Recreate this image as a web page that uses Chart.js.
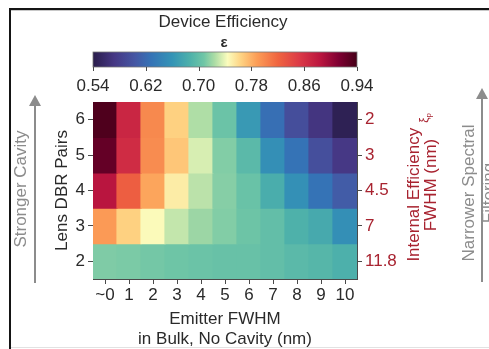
<!DOCTYPE html>
<html>
<head>
<meta charset="utf-8">
<script src="https://cdn.jsdelivr.net/npm/chart.js@4.4.0/dist/chart.umd.min.js"></script>
<style>
  html, body { margin: 0; padding: 0; background: #fff; }
  #wrap { width: 489px; height: 349px; }
</style>
</head>
<body>
<div id="wrap"><canvas id="c" width="489" height="349"></canvas></div>
<script>
// Emitter FWHM in bulk (columns) and lens DBR pairs (rows, top to bottom)
const fwhmLabels = ['~0', '1', '2', '3', '4', '5', '6', '7', '8', '9', '10'];
const lensPairs = [6, 5, 4, 3, 2];
// Cavity FWHM (nm) belonging to each number of lens DBR pairs
const cavityFwhm = ['2', '3', '4.5', '7', '11.8'];

// Device efficiency for each row of lens DBR pairs
const effPairs6 = [0.935, 0.870, 0.800, 0.765, 0.725, 0.705, 0.665, 0.625, 0.595, 0.570, 0.545];
const effPairs5 = [0.925, 0.865, 0.798, 0.770, 0.735, 0.713, 0.695, 0.655, 0.628, 0.596, 0.573];
const effPairs4 = [0.885, 0.825, 0.785, 0.752, 0.728, 0.714, 0.704, 0.683, 0.656, 0.628, 0.608];
const effPairs3 = [0.790, 0.765, 0.745, 0.730, 0.720, 0.713, 0.706, 0.700, 0.687, 0.680, 0.655];
const effPairs2 = [0.712, 0.711, 0.709, 0.707, 0.705, 0.703, 0.703, 0.700, 0.695, 0.692, 0.686];
const effRows = [effPairs6, effPairs5, effPairs4, effPairs3, effPairs2];

// Colour scale
const cbMin = 0.54, cbMax = 0.94;
const cbTicks = [0.54, 0.62, 0.70, 0.78, 0.86, 0.94];
const cmapStops = [
  [0.00, '#2a1d4b'], [0.08, '#463784'], [0.16, '#4557a4'], [0.22, '#3573b6'],
  [0.30, '#3494b6'], [0.37, '#4fb2aa'], [0.42, '#70c6a6'], [0.46, '#abdca5'],
  [0.51, '#fbfcbd'], [0.56, '#fed383'], [0.62, '#fc9e57'], [0.70, '#f06540'],
  [0.78, '#dc3b47'], [0.86, '#bb163f'], [0.93, '#7f0032'], [1.00, '#450018']
];

function hexToRgb(h) {
  const n = parseInt(h.slice(1), 16);
  return [(n >> 16) & 255, (n >> 8) & 255, n & 255];
}
function effColor(v) {
  const f = Math.min(1, Math.max(0, (v - cbMin) / (cbMax - cbMin)));
  for (let i = 1; i < cmapStops.length; i++) {
    const [f1, c1] = cmapStops[i];
    const [f0, c0] = cmapStops[i - 1];
    if (f <= f1) {
      const t = (f - f0) / (f1 - f0);
      const a = hexToRgb(c0), b = hexToRgb(c1);
      const m = a.map((x, k) => Math.round(x + (b[k] - x) * t));
      return `rgb(${m[0]},${m[1]},${m[2]})`;
    }
  }
  return cmapStops[cmapStops.length - 1][1];
}

const TEXT = '#2a2a2a';
const RED = '#a82330';
const GREY = '#8c8c8c';
const AXIS = '#4a4a4a';
const FONT = "'Liberation Sans', Arial, Helvetica, sans-serif";

Chart.defaults.font.family = FONT;
Chart.defaults.font.size = 17;
Chart.defaults.color = TEXT;

function rotatedText(ctx, text, x, y, font, color) {
  ctx.save();
  ctx.translate(x, y);
  ctx.rotate(-Math.PI / 2);
  ctx.font = font;
  ctx.fillStyle = color;
  ctx.textAlign = 'center';
  ctx.textBaseline = 'middle';
  ctx.fillText(text, 0, 0);
  ctx.restore();
}

function upArrow(ctx, x, yTop, yBottom, color) {
  ctx.save();
  ctx.strokeStyle = color;
  ctx.fillStyle = color;
  ctx.lineWidth = 2;
  ctx.beginPath();
  ctx.moveTo(x, yBottom);
  ctx.lineTo(x, yTop + 8);
  ctx.stroke();
  ctx.beginPath();
  ctx.moveTo(x, yTop);
  ctx.lineTo(x - 6, yTop + 11);
  ctx.lineTo(x + 6, yTop + 11);
  ctx.closePath();
  ctx.fill();
  ctx.restore();
}

// Frame, colour bar, headings and side annotations
const decorations = {
  id: 'decorations',
  beforeDraw(chart) {
    const ctx = chart.ctx;
    ctx.save();
    ctx.fillStyle = '#fff';
    ctx.fillRect(0, 0, chart.width, chart.height);
    ctx.restore();
  },
  afterDraw(chart) {
    const ctx = chart.ctx;
    const cb = chart.scales.xc;
    const area = chart.chartArea;
    ctx.save();

    // outer frame
    ctx.fillStyle = '#151515';
    ctx.fillRect(9, 8, 480, 2);
    ctx.fillRect(9, 8, 2, 341);
    ctx.fillStyle = '#c8c8c8';
    ctx.fillRect(11, 10, 478, 1);
    ctx.fillStyle = '#e2e2e2';
    ctx.fillRect(11, 347, 478, 1);

    // colour bar heading
    const cx = (area.left + area.right) / 2;
    ctx.fillStyle = TEXT;
    ctx.textAlign = 'center';
    ctx.textBaseline = 'middle';
    ctx.font = `17px ${FONT}`;
    ctx.fillText('Device Efficiency', cx - 2, 22);
    ctx.font = `bold 15px ${FONT}`;
    ctx.fillText('ε', cx - 1, 43);

    // colour bar
    const barTop = 52, barBottom = 67;
    const g = ctx.createLinearGradient(cb.left, 0, cb.right, 0);
    cmapStops.forEach(([f, c]) => g.addColorStop(f, c));
    ctx.fillStyle = g;
    ctx.fillRect(cb.left, barTop, cb.right - cb.left, barBottom - barTop);
    ctx.strokeStyle = '#777';
    ctx.lineWidth = 0.8;
    ctx.strokeRect(cb.left, barTop, cb.right - cb.left, barBottom - barTop);
    ctx.strokeStyle = AXIS;
    ctx.lineWidth = 1;
    cbTicks.forEach(t => {
      const px = Math.round(cb.getPixelForValue(t)) + 0.5;
      ctx.beginPath();
      ctx.moveTo(px, barBottom);
      ctx.lineTo(px, barBottom + 4);
      ctx.stroke();
    });

    // left annotation
    upArrow(ctx, 35, 95, 283, GREY);
    rotatedText(ctx, 'Stronger Cavity', 21, 189, `17px ${FONT}`, GREY);

    // right axis title (internal efficiency / cavity FWHM)
    ctx.save();
    ctx.translate(414, 187);
    ctx.rotate(-Math.PI / 2);
    ctx.fillStyle = RED;
    ctx.textBaseline = 'middle';
    ctx.font = `17px ${FONT}`;
    const main = 'Internal Efficiency';
    const wMain = ctx.measureText(main).width;
    ctx.font = `12px ${FONT}`;
    const wXi = ctx.measureText('ξ').width;
    const total = wMain + 5 + wXi + 5;
    const x0 = -total / 2;
    ctx.font = `17px ${FONT}`;
    ctx.textAlign = 'left';
    ctx.fillText(main, x0, 0);
    ctx.font = `12px ${FONT}`;
    ctx.fillText('ξ', x0 + wMain + 5, 11);
    ctx.font = `8px ${FONT}`;
    ctx.fillText('p', x0 + wMain + 5 + wXi, 15);
    ctx.restore();
    rotatedText(ctx, 'FWHM (nm)', 431, 185, `17px ${FONT}`, RED);

    // right annotation
    rotatedText(ctx, 'Narrower Spectral', 469, 193, `17px ${FONT}`, GREY);
    rotatedText(ctx, 'Filtering', 489, 193, `17px ${FONT}`, GREY);
    upArrow(ctx, 482, 88, 282, GREY);

    ctx.restore();
  }
};

const tickGrid = {
  display: true, drawOnChartArea: false, drawTicks: true,
  tickLength: 5, color: AXIS, lineWidth: 1, offset: false
};

const datasets = lensPairs.map((p, r) => ({
  label: `${p} pairs`,
  data: effRows[r].map(() => [p - 0.5, p + 0.5]),
  backgroundColor: effRows[r].map(effColor),
  borderWidth: 0,
  grouped: false,
  barPercentage: 1,
  categoryPercentage: 1,
  inflateAmount: 0.6,
  xAxisID: 'x',
  yAxisID: 'y'
}));

new Chart(document.getElementById('c'), {
  type: 'bar',
  data: { labels: fwhmLabels, datasets },
  options: {
    responsive: false,
    devicePixelRatio: 1,
    animation: false,
    events: [],
    layout: { padding: { left: 48, right: 52, top: 60, bottom: 0 } },
    plugins: { legend: { display: false }, tooltip: { enabled: false }, title: { display: false } },
    scales: {
      x: {
        type: 'category', position: 'bottom', offset: true,
        grid: tickGrid,
        border: { display: true, color: AXIS, width: 1 },
        ticks: { padding: 1, color: TEXT, maxRotation: 0, autoSkip: false },
        title: {
          display: true, text: ['Emitter FWHM', 'in Bulk, No Cavity (nm)'],
          color: TEXT, font: { size: 17, lineHeight: 1.15 }, padding: { top: 0, bottom: 0 }
        },
        afterFit: s => { s.height = 70; }
      },
      y: {
        type: 'linear', position: 'left', min: 1.5, max: 6.5, stacked: false,
        afterBuildTicks: s => { s.ticks = lensPairs.map(v => ({ value: v })); },
        grid: tickGrid,
        border: { display: true, color: AXIS, width: 1 },
        ticks: { padding: 3, color: TEXT },
        title: { display: true, text: 'Lens DBR Pairs', color: TEXT, padding: { top: 4, bottom: 0 } },
        afterFit: s => { s.width = 45; }
      },
      y2: {
        type: 'linear', position: 'right', min: 1.5, max: 6.5,
        afterBuildTicks: s => { s.ticks = lensPairs.map(v => ({ value: v })); },
        grid: tickGrid,
        border: { display: true, color: AXIS, width: 1 },
        ticks: { padding: 3, color: RED, callback: v => cavityFwhm[lensPairs.indexOf(v)] },
        afterFit: s => { s.width = 80; }
      },
      xc: {
        type: 'linear', position: 'top', min: cbMin, max: cbMax, offset: false,
        afterBuildTicks: s => { s.ticks = cbTicks.map(v => ({ value: v })); },
        grid: { display: false, drawTicks: false, offset: false },
        border: { display: true, color: AXIS, width: 1 },
        ticks: { padding: 5, color: TEXT, maxRotation: 0, autoSkip: false, callback: v => v.toFixed(2) },
        afterFit: s => { s.height = 42; }
      }
    }
  },
  plugins: [decorations]
});
</script>
</body>
</html>
